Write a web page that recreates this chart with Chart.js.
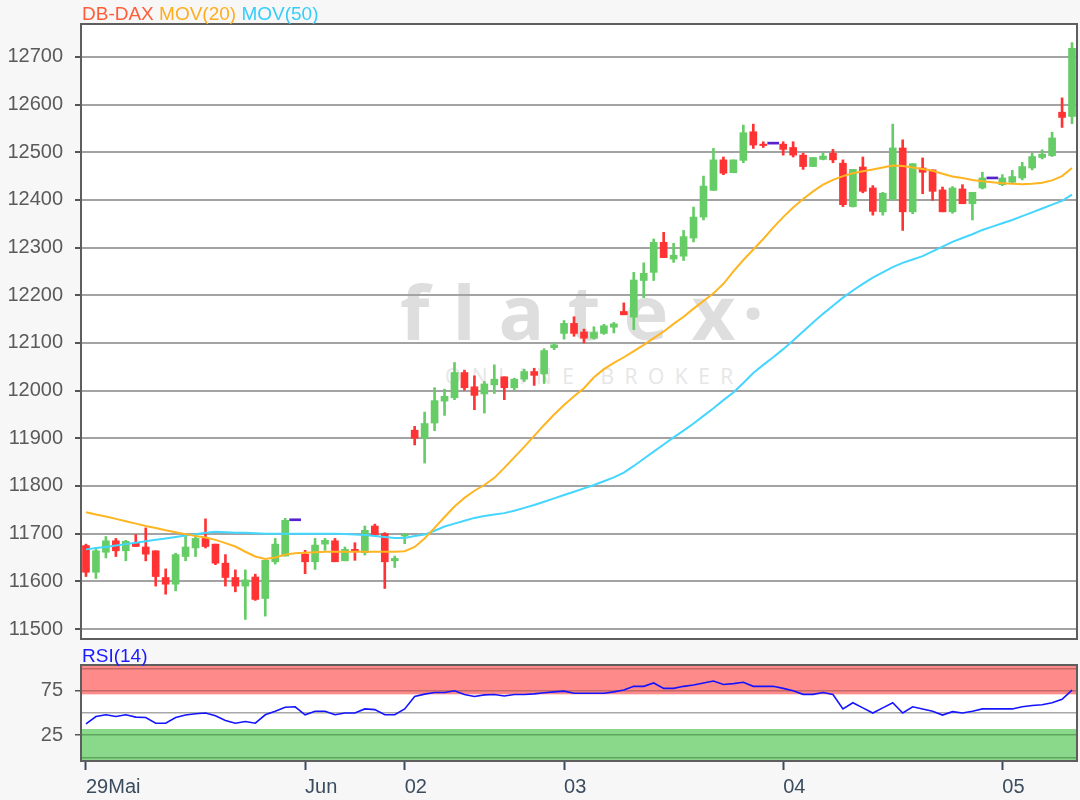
<!DOCTYPE html>
<html>
<head>
<meta charset="utf-8">
<title>DB-DAX</title>
<script src="https://cdn.jsdelivr.net/npm/chart.js@4.4.1/dist/chart.umd.min.js"></script>
<style>
  body { margin: 0; background: #f7f7f7; font-family: "Liberation Sans", Arial, sans-serif; }
  #wrap { position: relative; width: 1080px; height: 800px; overflow: hidden; }
  #plotbg { position: absolute; background: #fff; }
  .wm { position: absolute; font-family: "Open Sans", sans-serif; white-space: nowrap; }
  #wm1 { left: 400px; top: 273px; font-size: 76px; line-height: 76px; font-weight: bold; color: #dedede; letter-spacing: 23px; }
  #wm2 { left: 445px; top: 366px; font-size: 21px; line-height: 21px; color: #e6e6e6; letter-spacing: 10.5px; }
  .ttl { position: absolute; font-size: 19px; line-height: 19px; white-space: nowrap; }
  canvas { position: absolute; left: 0; }
</style>
</head>
<body>
<div id="wrap">
  <div id="plotbg"></div>
  <div class="wm" id="wm1">flatex<span style="margin-left:-16px">·</span></div>
  <div class="wm" id="wm2">ONLINE BROKER</div>
  <canvas id="main" width="1080" height="648" style="top:0"></canvas>
  <canvas id="rsi" width="1080" height="152" style="top:648px"></canvas>
  <div class="ttl" style="left:82px; top:4px"><span style="color:#ff5c3a">DB-DAX</span> <span style="color:#ffad1f">MOV(20)</span> <span style="color:#36cdfb">MOV(50)</span></div>
  <div class="ttl" style="left:82px; top:646px; color:#1a1aff">RSI(14)</div>
</div>
<script>
// DATOS: 100 velas, de 29 Mai a 05 Jun
const dayNames  = ['29Mai', 'Jun', '02', '03', '04', '05']
const dayStarts = [0, 22, 32, 48, 70, 92]

const open = [
  11675, 11619, 11661, 11685, 11664, 11680, 11672, 11664, 11608, 11594,
  11652, 11670, 11690, 11678, 11638, 11608, 11590, 11609, 11564, 11641,
  11653, 11727, 11657, 11641, 11678, 11685, 11643, 11667, 11660, 11716,
  11700, 11643, 11695, 11917, 11900, 11932, 11978, 11985, 12038, 12008,
  11993, 12012, 12029, 12006, 12024, 12040, 12035, 12090, 12120, 12141,
  12123, 12110, 12120, 12133, 12166, 12154, 12231, 12248, 12311, 12276,
  12282, 12320, 12364, 12420, 12484, 12457, 12483, 12543, 12517, 12517,
  12517, 12510, 12494, 12470, 12485, 12498, 12477, 12386, 12469, 12425,
  12375, 12402, 12509, 12375, 12467, 12463, 12421, 12375, 12423, 12392,
  12425, 12444, 12432, 12437, 12446, 12467, 12489, 12493, 12584, 12575
]
const high = [
  11678, 11670, 11694, 11690, 11686, 11698, 11712, 11664, 11626, 11659,
  11694, 11699, 11731, 11678, 11656, 11624, 11624, 11615, 11644, 11690,
  11732, 11727, 11665, 11690, 11690, 11690, 11672, 11681, 11716, 11720,
  11702, 11653, 11700, 11925, 11955, 12006, 12003, 12059, 12043, 12031,
  12019, 12054, 12029, 12026, 12045, 12047, 12088, 12100, 12147, 12155,
  12129, 12134, 12139, 12143, 12184, 12248, 12268, 12318, 12332, 12309,
  12336, 12385, 12450, 12508, 12490, 12484, 12557, 12559, 12522, 12517,
  12522, 12522, 12498, 12489, 12498, 12506, 12484, 12464, 12490, 12430,
  12416, 12559, 12526, 12476, 12488, 12463, 12427, 12428, 12432, 12416,
  12458, 12444, 12453, 12462, 12479, 12498, 12505, 12542, 12614, 12730
]
const low = [
  11610, 11606, 11649, 11652, 11643, 11673, 11643, 11590, 11573, 11580,
  11643, 11652, 11670, 11635, 11590, 11578, 11520, 11560, 11527, 11636,
  11653, 11727, 11616, 11625, 11665, 11641, 11643, 11644, 11655, 11697,
  11585, 11629, 11679, 11886, 11848, 11916, 11948, 11981, 12001, 11960,
  11953, 11994, 11981, 12001, 12019, 12011, 12015, 12086, 12108, 12114,
  12100, 12108, 12118, 12121, 12159, 12128, 12195, 12231, 12279, 12269,
  12273, 12312, 12358, 12420, 12453, 12457, 12478, 12508, 12510, 12517,
  12494, 12490, 12464, 12470, 12484, 12478, 12386, 12385, 12415, 12368,
  12368, 12399, 12336, 12371, 12413, 12399, 12375, 12372, 12392, 12358,
  12423, 12444, 12430, 12435, 12442, 12463, 12486, 12491, 12552, 12560
]
const close = [
  11619, 11664, 11685, 11664, 11684, 11673, 11657, 11610, 11594, 11656,
  11672, 11690, 11673, 11638, 11608, 11590, 11603, 11562, 11644, 11678,
  11728, 11727, 11641, 11676, 11686, 11641, 11667, 11662, 11707, 11697,
  11641, 11648, 11699, 11900, 11931, 11979, 11988, 12038, 12006, 11990,
  12014, 12024, 12006, 12024, 12040, 12032, 12084, 12096, 12141, 12120,
  12110, 12122, 12136, 12140, 12159, 12232, 12246, 12311, 12279, 12284,
  12323, 12364, 12429, 12484, 12456, 12484, 12541, 12515, 12514, 12517,
  12506, 12494, 12470, 12489, 12492, 12484, 12390, 12464, 12418, 12376,
  12414, 12509, 12375, 12476, 12458, 12418, 12375, 12425, 12392, 12416,
  12446, 12444, 12446, 12449, 12470, 12491, 12496, 12530, 12573, 12718
]
const mov20 = [
  11745, 11740, 11736, 11731, 11726, 11721, 11716, 11712, 11707, 11703,
  11699, 11695, 11692, 11687, 11680, 11673, 11662, 11652, 11647, 11650,
  11656, 11659, 11660, 11661, 11662, 11662, 11662, 11662, 11662, 11662,
  11662, 11662, 11663, 11672, 11690, 11712, 11735, 11757, 11775, 11790,
  11802, 11817, 11838, 11860, 11882, 11905, 11928, 11950, 11970, 11988,
  12005, 12028, 12045, 12058, 12070, 12083, 12096, 12110, 12124, 12140,
  12155, 12172, 12188, 12204, 12224, 12250, 12274, 12296, 12318, 12342,
  12364, 12384, 12402, 12418, 12432, 12442, 12450, 12456, 12460, 12464,
  12468, 12472, 12471, 12468, 12465, 12461, 12455, 12449, 12446, 12442,
  12439, 12437, 12435, 12434, 12433, 12434, 12436, 12441, 12450, 12467
]
const mov50 = [
  11667, 11670, 11672, 11675, 11678, 11681, 11684, 11687, 11690, 11693,
  11696, 11699, 11702, 11704, 11703, 11702, 11702, 11701, 11700, 11700,
  11700, 11700, 11700, 11700, 11700, 11700, 11699, 11698, 11697, 11695,
  11693, 11691, 11691, 11695, 11698, 11706, 11715, 11721, 11727, 11733,
  11737, 11740, 11743, 11748, 11754, 11760, 11767, 11774, 11781, 11788,
  11795, 11802, 11810, 11818, 11828, 11842, 11857, 11872, 11887, 11902,
  11916, 11931, 11947, 11963, 11980, 11996, 12016, 12037, 12054, 12070,
  12087, 12105, 12124, 12143, 12161, 12178, 12195, 12210, 12224, 12237,
  12248, 12259, 12268, 12275, 12282, 12292, 12302, 12312, 12320, 12328,
  12337, 12344, 12351, 12358, 12366, 12374, 12382, 12390, 12398, 12411
]
const rsi14 = [
  37.7, 46, 48, 46, 48, 45.4, 45, 38.5, 38.5, 45,
  47.7, 49.2, 50, 47, 41.5, 38.5, 40.4, 38.5, 48, 52,
  56.5, 57, 48, 52, 52, 48, 50, 50, 54.6, 53.8,
  48, 48, 54.6, 68.5, 71.2, 73, 73, 75, 70.8, 68.5,
  70.4, 70.8, 69.2, 70.8, 70.8, 71.5, 72.7, 73.8, 74.6, 72.3,
  72.3, 72.3, 72.3, 73.8, 75.8, 80, 80, 83.8, 77.7, 77.7,
  80, 81.5, 83.8, 86, 82, 83, 84.6, 80, 80, 80,
  77.7, 75, 71, 71, 73, 70.8, 54.6, 61.5, 55.8, 50,
  55.8, 61.5, 50, 57, 54.6, 52, 47.7, 51.5, 50, 52,
  54.6, 54.6, 54.6, 54.6, 57, 58.5, 59.2, 61.5, 65.4, 75.8
]
const priceTicks = [11500, 11600, 11700, 11800, 11900, 12000, 12100, 12200, 12300, 12400, 12500, 12600, 12700]
const rsiTicks   = [0, 25, 50, 75, 100]
const rsiLabeled = [25, 75]

// COLORES
const upColor   = '#66cc66'
const downColor = '#ff3333'
const dojiColor = '#5522cc'

// CONSTRUIMOS LAS ETIQUETAS DEL EJE X
const labels = open.map(() => '')
dayStarts.forEach((s, k) => { labels[s] = dayNames[k] })

const isDoji = open.map((o, i) => o === close[i])
const colors = open.map((o, i) => close[i] > o ? upColor : downColor)

const bodies = open.map((o, i) => isDoji[i] ? null : [o, close[i]])
const wicks  = open.map((o, i) => isDoji[i] ? null : [low[i], high[i]])
const dojis  = open.map((o, i) => isDoji[i] ? [o, close[i]] : null)

Chart.defaults.font.family = '"Liberation Sans", Arial, sans-serif'
Chart.defaults.animation = false

function fixWidth(scale) {
  scale.width = 81
  scale.paddingTop = 0
  scale.paddingBottom = 0
}

const boxPlugin = {
  id: 'box',
  afterDraw(chart) {
    const a = chart.chartArea
    const ctx = chart.ctx
    ctx.save()
    ctx.strokeStyle = '#5e5e5e'
    ctx.lineWidth = 2
    ctx.strokeRect(a.left, a.top, a.right - a.left, a.bottom - a.top)
    ctx.restore()
  }
}

// GRAFICO PRINCIPAL (VELAS + MEDIAS)
const mainChart = new Chart(document.getElementById('main'), {
  type: 'bar',
  data: {
    labels: labels,
    datasets: [
      { type: 'line', data: mov20, borderColor: '#ffb521', borderWidth: 2, pointRadius: 0, order: 0 },
      { type: 'line', data: mov50, borderColor: '#44d6ff', borderWidth: 2, pointRadius: 0, order: 0 },
      { data: dojis, backgroundColor: dojiColor, barThickness: 11, minBarLength: 2, grouped: false, order: 1 },
      { data: bodies, backgroundColor: colors, barThickness: 7, grouped: false, order: 2 },
      { data: wicks, backgroundColor: colors, barThickness: 2, grouped: false, order: 3 }
    ]
  },
  options: {
    responsive: false,
    devicePixelRatio: 1,
    layout: { padding: { top: 24, right: 3, bottom: 9, left: 0 } },
    plugins: { legend: { display: false }, tooltip: { enabled: false } },
    scales: {
      x: {
        display: false,
        offset: true,
        afterFit: s => { s.paddingLeft = 0; s.paddingRight = 0 }
      },
      y: {
        min: 11479,
        max: 12769,
        afterBuildTicks: s => { s.ticks = priceTicks.map(v => ({ value: v })) },
        afterFit: fixWidth,
        border: { display: false },
        grid: { color: '#a3a3a3', lineWidth: 2, tickColor: '#555', tickLength: 6 },
        ticks: { autoSkip: false, color: '#5a5a5a', font: { size: 20 }, padding: 12, callback: v => String(v) }
      }
    }
  },
  plugins: [boxPlugin]
})

// FONDO BLANCO DEL AREA DEL GRAFICO
const ca = mainChart.chartArea
const bg = document.getElementById('plotbg')
bg.style.left = ca.left + 'px'
bg.style.top = ca.top + 'px'
bg.style.width = (ca.right - ca.left) + 'px'
bg.style.height = (ca.bottom - ca.top) + 'px'

// ZONAS DEL RSI
const rsiUpper = 71
const rsiLower = 32
const bandPlugin = {
  id: 'bands',
  beforeDraw(chart) {
    const a = chart.chartArea
    const ctx = chart.ctx
    const y = chart.scales.y
    ctx.save()
    ctx.fillStyle = '#ffffff'
    ctx.fillRect(a.left, a.top, a.right - a.left, a.bottom - a.top)
    const yHi = y.getPixelForValue(rsiUpper)
    ctx.fillStyle = '#ff8a8a'
    ctx.fillRect(a.left, a.top, a.right - a.left, yHi - a.top)
    const yLo = y.getPixelForValue(rsiLower)
    ctx.fillStyle = '#8ad88a'
    ctx.fillRect(a.left, yLo, a.right - a.left, a.bottom - yLo)
    ctx.restore()
  }
}

function rsiGridColor(c) {
  const v = c.tick ? c.tick.value : 50
  if (v >= 75) return '#c46868'
  if (v <= 25) return '#5ea55e'
  return '#a8a8a8'
}
function rsiTickColor(c) {
  return (c.tick && rsiLabeled.includes(c.tick.value)) ? '#555' : 'rgba(0,0,0,0)'
}

// GRAFICO RSI
new Chart(document.getElementById('rsi'), {
  type: 'line',
  data: {
    labels: labels,
    datasets: [{ data: rsi14, borderColor: '#1414ff', borderWidth: 1.6, pointRadius: 0 }]
  },
  options: {
    responsive: false,
    devicePixelRatio: 1,
    layout: { padding: { top: 17, right: 3, bottom: 0, left: 0 } },
    plugins: { legend: { display: false }, tooltip: { enabled: false } },
    scales: {
      x: {
        offset: true,
        afterFit: s => { s.height = 39; s.paddingLeft = 0; s.paddingRight = 0 },
        border: { display: false },
        grid: {
          offset: false,
          drawOnChartArea: false,
          tickLength: 9,
          tickWidth: 2,
          color: c => (c.tick && c.tick.label) ? '#3a4c5e' : 'rgba(0,0,0,0)'
        },
        ticks: { autoSkip: false, maxRotation: 0, align: 'start', color: '#3a4c5e', font: { size: 20 }, padding: 5 }
      },
      y: {
        min: -4,
        max: 104,
        afterBuildTicks: s => { s.ticks = rsiTicks.map(v => ({ value: v })) },
        afterFit: fixWidth,
        border: { display: false },
        grid: {
          color: rsiGridColor,
          lineWidth: 1.5,
          tickLength: 6,
          tickColor: rsiTickColor
        },
        ticks: {
          autoSkip: false,
          color: '#5a5a5a',
          font: { size: 20 },
          padding: 12,
          callback: v => rsiLabeled.includes(v) ? String(v) : ''
        }
      }
    }
  },
  plugins: [bandPlugin, boxPlugin]
})
</script>
</body>
</html>
